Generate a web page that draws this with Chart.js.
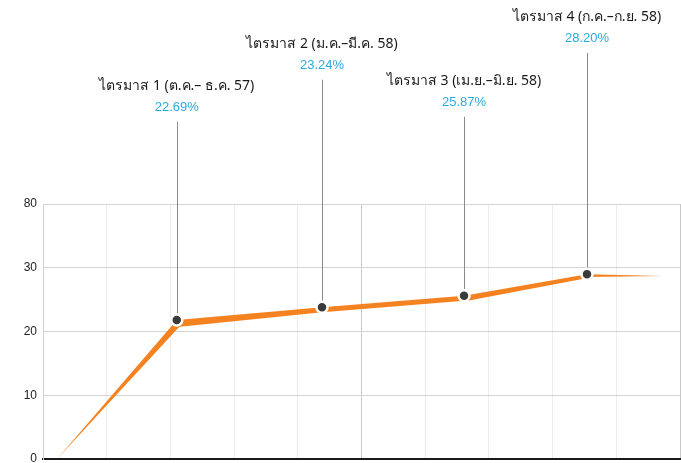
<!DOCTYPE html>
<html lang="th">
<head>
<meta charset="UTF-8">
<title>ไตรมาส</title>
<script src="https://cdn.jsdelivr.net/npm/chart.js"></script>
<style>
  body { margin: 0; background: #fff; }
  #wrap { width: 681px; height: 463px; }
</style>
</head>
<body>
<div id="wrap"><canvas id="myChart"></canvas></div>
<script>
// data
var xVals = [0.22, 2.10, 4.38, 6.61, 8.54, 9.73];
var lineVals = [0, 21.8, 23.8, 25.6, 29.0, 28.7];
var quarterNames = [
  'ไตรมาส 1 (ต.ค.– ธ.ค. 57)',
  'ไตรมาส 2 (ม.ค.–มี.ค. 58)',
  'ไตรมาส 3 (เม.ย.–มิ.ย. 58)',
  'ไตรมาส 4 (ก.ค.–ก.ย. 58)'
];
var quarterPct = [22.69, 23.24, 25.87, 28.20];
var yTickValues = [0, 10, 20, 30, 40];
var yTickLabels = ['0', '10', '20', '30', '80'];

var linePoints = xVals.map(function (x, i) { return { x: x, y: lineVals[i] }; });
var dotPoints = linePoints.slice(1, 5);

// tapered orange line + leaders + labels
var ribbon = {
  id: 'ribbon',
  beforeDatasetsDraw: function (chart, args, opts) {
    var pts = chart.getDatasetMeta(0).data;
    var dots = chart.getDatasetMeta(1).data;
    var c = chart.ctx;
    c.save();
    // leaders
    c.strokeStyle = '#8a8a8a';
    c.lineWidth = 1;
    dots.forEach(function (d, i) {
      var top = chart.scales.y.getPixelForValue(opts.leaderTop[i]);
      var x = Math.round(d.x) + 0.5;
      c.beginPath();
      c.moveTo(x, d.y);
      c.lineTo(x, top);
      c.stroke();
    });
    c.fillStyle = opts.color;
    for (var i = 0; i < pts.length - 1; i++) {
      var a = pts[i], b = pts[i + 1];
      var dx = b.x - a.x, dy = b.y - a.y, len = Math.hypot(dx, dy);
      var nx = -dy / len, ny = dx / len;
      var w0 = opts.w0[i], w1 = opts.w1[i];
      c.beginPath();
      c.moveTo(a.x, a.y);
      c.lineTo(b.x, b.y);
      c.lineTo(b.x + nx * w1, b.y + ny * w1);
      c.lineTo(a.x + nx * w0, a.y + ny * w0);
      c.closePath();
      c.fill();
    }
    c.restore();
  },
  afterDraw: function (chart, args, opts) {
    var dots = chart.getDatasetMeta(1).data;
    var c = chart.ctx;
    c.save();
    c.textAlign = 'center';
    c.textBaseline = 'middle';
    dots.forEach(function (d, i) {
      var top = chart.scales.y.getPixelForValue(opts.leaderTop[i]);
      c.fillStyle = '#1a1a1a';
      c.font = '14px "Noto Sans", "DejaVu Sans", sans-serif';
      c.fillText(quarterNames[i], d.x, top - 36);
      c.fillStyle = '#29abe2';
      c.font = '13px "Liberation Sans", Arial, sans-serif';
      c.fillText(quarterPct[i].toFixed(2) + '%', d.x, top - 14);
    });
    c.restore();
  }
};

new Chart(document.getElementById('myChart'), {
  type: 'scatter',
  data: {
    datasets: [
      {
        data: linePoints,
        showLine: false,
        pointRadius: 0,
        pointHoverRadius: 0
      },
      {
        data: dotPoints,
        pointRadius: 5.5,
        pointBackgroundColor: '#3a3a3a',
        pointBorderColor: '#ffffff',
        pointBorderWidth: 2.5
      }
    ]
  },
  options: {
    responsive: true,
    maintainAspectRatio: false,
    animation: false,
    layout: { autoPadding: false, padding: { top: 204, right: 1, left: 0, bottom: 0 } },
    plugins: {
      legend: { display: false },
      tooltip: { enabled: false },
      ribbon: {
        color: '#f58220',
        w0: [0, 7, 5, 5.5, 3],
        w1: [6.5, 5, 5, 4, 0],
        leaderTop: [52.9, 59.5, 53.7, 63.7]
      }
    },
    scales: {
      x: {
        type: 'linear',
        min: 0,
        max: 10,
        ticks: { display: false, stepSize: 1 },
        grid: {
          drawTicks: false,
          color: function (ctx) {
            var v = ctx.tick ? ctx.tick.value : 0;
            return (v === 5 || v === 10) ? '#c8c8c8' : '#ececec';
          }
        },
        border: { color: '#1a1a1a', width: 2 },
        afterFit: function (axis) {
          axis.height = 4;
          axis.paddingLeft = 0;
          axis.paddingRight = 0;
        }
      },
      y: {
        min: 0,
        max: 40,
        afterBuildTicks: function (axis) {
          axis.ticks = yTickValues.map(function (v) { return { value: v }; });
        },
        ticks: {
          padding: 6,
          color: '#222',
          font: { family: '"Liberation Sans", Arial, sans-serif', size: 12 },
          callback: function (v) { return yTickLabels[yTickValues.indexOf(v)]; }
        },
        grid: { drawTicks: false, color: '#d4d4d4' },
        border: { color: '#cfcfcf' },
        afterFit: function (axis) {
          axis.width = 43;
          axis.paddingTop = 0;
          axis.paddingBottom = 0;
        }
      }
    }
  },
  plugins: [ribbon]
});
</script>
</body>
</html>
